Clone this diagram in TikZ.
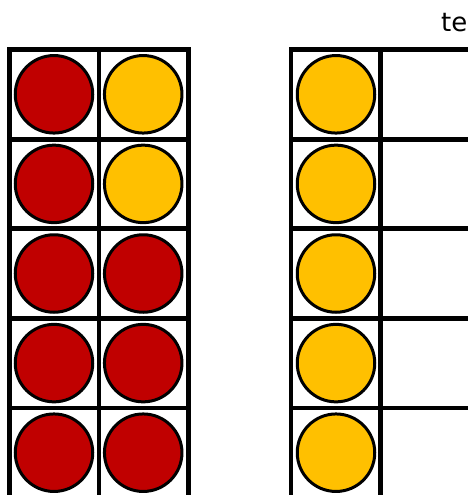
\documentclass[tikz,border=0pt]{standalone}
\usepackage{fontspec}
\setmainfont{DejaVu Sans}
\definecolor{cred}{HTML}{C00000}
\definecolor{cyel}{HTML}{FFC000}
\begin{document}
\begin{tikzpicture}[x=1pt,y=-1pt,
  gridline/.style={line width=4.8pt,line cap=rect},
  dot/.style={circle,draw=black,line width=3pt,minimum size=77.5pt,inner sep=0pt},
  reddot/.style={dot,fill=cred},
  yeldot/.style={dot,fill=cyel}]
\useasboundingbox (0,0) rectangle (468,495);
\clip (0,0) rectangle (468,495);
\def\cs{89.6}
% left frame
\foreach \i in {0,...,5}{
  \draw[gridline] (9.5,49.5+\i*\cs) -- (188.5,49.5+\i*\cs);
}
\foreach \x in {9.5,98.9,188.5}{
  \draw[gridline] (\x,49.5) -- (\x,497.5);
}
% right frame
\foreach \i in {0,...,5}{
  \draw[gridline] (291,49.5+\i*\cs) -- (470,49.5+\i*\cs);
}
\foreach \x in {291,380.5,470}{
  \draw[gridline] (\x,49.5) -- (\x,497.5);
}
% left dots
\foreach \i in {1,...,5}{
  \node[reddot] (L1-\i) at (54,94.3+\i*\cs-\cs) {};
}
\node[yeldot] (L2-1) at (143.2,94.3) {};
\node[yeldot] (L2-2) at (143.2,94.3+\cs) {};
\foreach \i in {3,4,5}{
  \node[reddot] (L2-\i) at (143.2,94.3+\i*\cs-\cs) {};
}
% right dots
\foreach \i in {1,...,5}{
  \node[yeldot] (R1-\i) at (336,94.3+\i*\cs-\cs) {};
}
\node[anchor=base west,inner sep=0pt,font=\fontsize{26}{30}\selectfont] (title) at (441,31.7) {te};
\end{tikzpicture}
\end{document}
